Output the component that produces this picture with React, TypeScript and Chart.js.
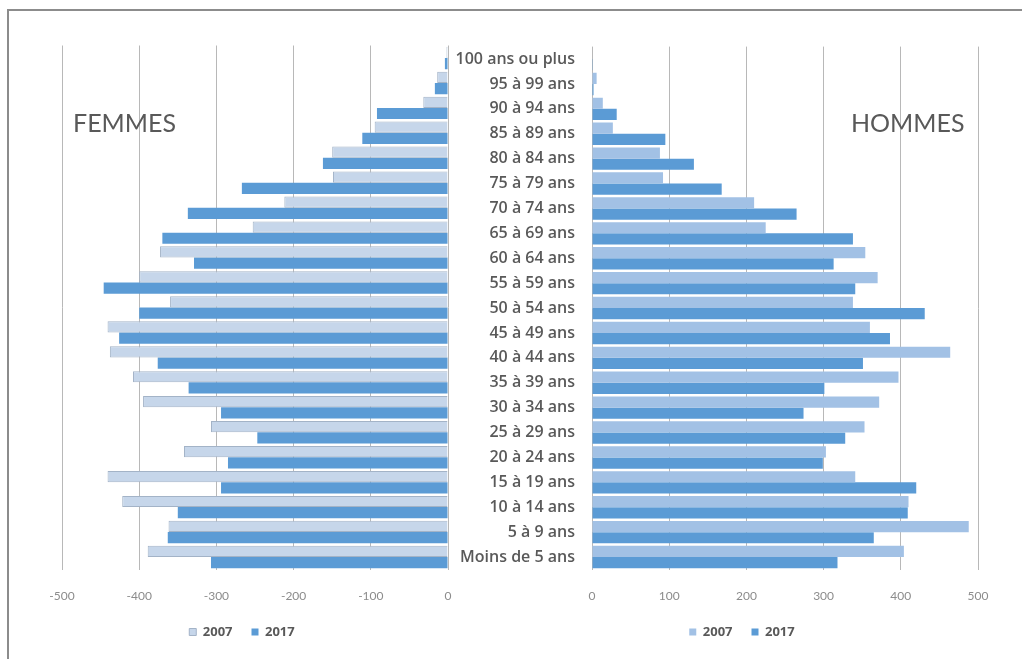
import React, { useEffect, useRef } from "react";
import { Chart, registerables } from "chart.js";

Chart.register(...registerables);

// Age groups, top to bottom
const categories = [
  "100 ans ou plus",
  "95 à 99 ans",
  "90 à 94 ans",
  "85 à 89 ans",
  "80 à 84 ans",
  "75 à 79 ans",
  "70 à 74 ans",
  "65 à 69 ans",
  "60 à 64 ans",
  "55 à 59 ans",
  "50 à 54 ans",
  "45 à 49 ans",
  "40 à 44 ans",
  "35 à 39 ans",
  "30 à 34 ans",
  "25 à 29 ans",
  "20 à 24 ans",
  "15 à 19 ans",
  "10 à 14 ans",
  "5 à 9 ans",
  "Moins de 5 ans",
];

const femmes2007 = [-2, -14, -32, -95, -150, -149, -212, -253, -373, -400, -360, -441, -438, -408, -395, -307, -342, -441, -422, -362, -389];
const femmes2017 = [-4, -17, -92, -111, -162, -267, -337, -370, -329, -446, -400, -426, -376, -336, -294, -247, -285, -294, -350, -363, -307];

const hommes2007 = [0, 6, 14, 27, 88, 92, 210, 225, 354, 370, 338, 360, 464, 397, 372, 353, 303, 341, 410, 488, 404];
const hommes2017 = [1, 2, 32, 95, 132, 168, 265, 338, 313, 341, 431, 386, 351, 301, 274, 328, 299, 420, 409, 365, 318];

const seriesLabels = ["2007", "2017"];
const femmesRange = { min: -500, max: 0 };
const hommesRange = { min: 0, max: 500 };
const tickStep = 100;

const FONT = "Lato, 'DejaVu Sans', sans-serif";
const FONT2 = "'Open Sans', 'DejaVu Sans', sans-serif";
const DARK = "#5b9bd5";

function spacer(position: string, width: number) {
  return {
    display: true,
    position,
    ticks: { display: false },
    grid: { display: false, drawTicks: false },
    border: { display: false },
    afterFit: (s: any) => {
      s.width = width;
    },
  };
}

function baseOptions(range: { min: number; max: number }, pad: any, yAxes: any) {
  return {
    indexAxis: "y" as const,
    animation: false as const,
    responsive: false,
    devicePixelRatio: 1,
    layout: { padding: pad },
    scales: {
      x: {
        min: range.min,
        max: range.max,
        ticks: {
          stepSize: tickStep,
          color: "#8c8c8c",
          font: { family: FONT, size: 12 },
          padding: 19,
        },
        grid: { color: "#b8b8b8", drawTicks: false, lineWidth: 1 },
        border: { display: false },
        afterFit: (s: any) => {
          s.height = 37;
        },
      },
      ...yAxes,
    },
    plugins: {
      legend: {
        position: "bottom" as const,
        labels: {
          boxWidth: 7,
          boxHeight: 7,
          padding: 19,
          color: "#595959",
          font: { family: FONT2, size: 13, weight: "bold" as const },
        },
      },
      tooltip: { enabled: false },
    },
  };
}

export default function App() {
  const leftRef = useRef<HTMLCanvasElement | null>(null);
  const rightRef = useRef<HTMLCanvasElement | null>(null);

  useEffect(() => {
    const left = new Chart(leftRef.current as HTMLCanvasElement, {
      type: "bar",
      data: {
        labels: categories,
        datasets: [
          {
            label: seriesLabels[0],
            data: femmes2007,
            backgroundColor: "#c6d6ea",
            borderColor: "#a3b3c7",
            borderWidth: 1,
            categoryPercentage: 0.9,
            barPercentage: 1,
          },
          {
            label: seriesLabels[1],
            data: femmes2017,
            backgroundColor: DARK,
            borderWidth: 0,
            categoryPercentage: 0.9,
            barPercentage: 1,
          },
        ],
      },
      options: baseOptions(femmesRange, { left: 16, right: 32, top: 25.5, bottom: 10.5 }, {
        y: spacer("left", 26),
      }) as any,
    });

    const right = new Chart(rightRef.current as HTMLCanvasElement, {
      type: "bar",
      data: {
        labels: categories,
        datasets: [
          {
            label: seriesLabels[0],
            data: hommes2007,
            backgroundColor: "#a2c1e5",
            borderWidth: 0,
            categoryPercentage: 0.9,
            barPercentage: 1,
          },
          {
            label: seriesLabels[1],
            data: hommes2017,
            backgroundColor: DARK,
            borderWidth: 0,
            categoryPercentage: 0.9,
            barPercentage: 1,
          },
        ],
      },
      options: baseOptions(hommesRange, { left: 15, right: 0, top: 25.5, bottom: 10.5 }, {
        y: {
          display: true,
          ticks: {
            color: "#595959",
            font: { family: FONT2, size: 16, weight: "600" },
            padding: 17,
            autoSkip: false,
          },
          grid: { display: false, drawTicks: false },
          border: { display: false },
          afterFit: (s: any) => {
            s.width = 137;
          },
        },
        y2: { type: "category", ...spacer("right", 51) },
      }) as any,
    });

    return () => {
      left.destroy();
      right.destroy();
    };
  }, []);

  const bigText: React.CSSProperties = {
    position: "absolute",
    fontFamily: FONT,
    fontSize: 25,
    lineHeight: "25px",
    color: "#595959",
    whiteSpace: "nowrap",
  };

  return (
    <div
      style={{
        position: "fixed",
        left: 0,
        top: 0,
        width: 1022,
        height: 659,
        overflow: "hidden",
        background: "#ffffff",
      }}
    >
      <div
        style={{
          position: "absolute",
          left: 7,
          top: 9,
          width: 1100,
          height: 1100,
          borderTop: "2px solid #8c8c8c",
          borderLeft: "2px solid #8c8c8c",
        }}
      />
      <canvas
        ref={leftRef}
        width={460}
        height={639}
        style={{ position: "absolute", left: 20, top: 20, width: 460, height: 639 }}
      />
      <canvas
        ref={rightRef}
        width={589}
        height={639}
        style={{ position: "absolute", left: 440, top: 20, width: 589, height: 639 }}
      />
      <div style={{ ...bigText, left: 73, top: 110 }}>FEMMES</div>
      <div style={{ ...bigText, left: 851, top: 110 }}>HOMMES</div>
    </div>
  );
}
